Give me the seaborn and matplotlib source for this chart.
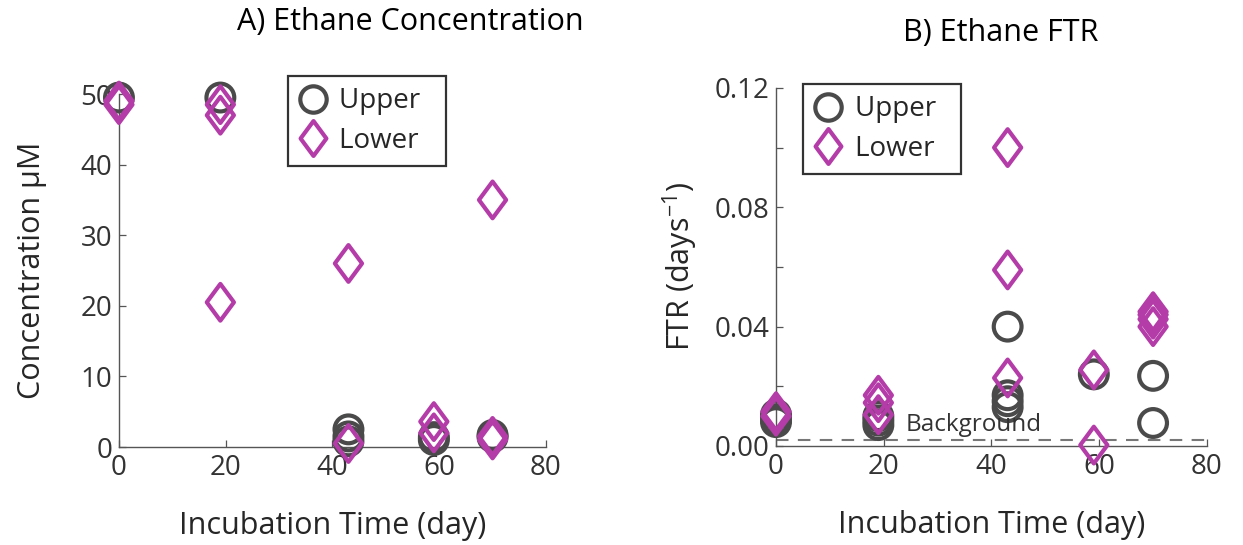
import numpy as np
import pandas as pd
import matplotlib
matplotlib.use("Agg")
import matplotlib.pyplot as plt
from matplotlib.path import Path
from matplotlib.lines import Line2D
import seaborn as sns

# Panel A: ethane concentration (uM)
conc_upper_day = [0, 19, 43, 43, 43, 59, 59, 70, 70]
conc_upper_val = [49.5, 49.5, 2.5, 1.5, 0.8, 1.4, 1.0, 1.7, 1.4]
conc_lower_day = [0, 0, 19, 19, 19, 43, 43, 59, 59, 70, 70, 70]
conc_lower_val = [49.0, 48.5, 48.5, 47.0, 20.5, 26.0, 0.5, 3.6, 2.0, 35.0, 1.5, 1.0]

# Panel B: ethane fractional turnover rate (1/day)
ftr_upper_day = [0, 0, 0, 19, 19, 19, 43, 43, 43, 43, 59, 70, 70]
ftr_upper_val = [0.0105, 0.0090, 0.0080, 0.0100, 0.0085, 0.0070,
                 0.0400, 0.0170, 0.0150, 0.0130, 0.0240, 0.0235, 0.0077]
ftr_lower_day = [0, 0, 19, 19, 19, 43, 43, 43, 59, 59, 70, 70, 70, 70]
ftr_lower_val = [0.0115, 0.0100, 0.0170, 0.0145, 0.0105,
                 0.1000, 0.0590, 0.0228, 0.0255, 0.0003,
                 0.0450, 0.0440, 0.0425, 0.0400]
background_ftr = 0.002

layers = ["Upper", "Lower"]
layer_colors = {"Upper": "#4a4a4a", "Lower": "#b43ca8"}
diamond = Path([(0, 1), (0.74, 0), (0, -1), (-0.74, 0), (0, 1)],
               [Path.MOVETO, Path.LINETO, Path.LINETO, Path.LINETO, Path.CLOSEPOLY])
layer_markers = {"Upper": "o", "Lower": diamond}
layer_sizes = {"Upper": 400, "Lower": 700}
edge_width = 3.0


def frame(days_u, vals_u, days_l, vals_l):
    return pd.concat([
        pd.DataFrame({"day": days_u, "value": vals_u, "layer": "Upper"}),
        pd.DataFrame({"day": days_l, "value": vals_l, "layer": "Lower"}),
    ], ignore_index=True)


conc = frame(conc_upper_day, conc_upper_val, conc_lower_day, conc_lower_val)
ftr = frame(ftr_upper_day, ftr_upper_val, ftr_lower_day, ftr_lower_val)

sns.set_theme(style="ticks")
plt.rcParams["font.family"] = ["Open Sans", "DejaVu Sans"]
plt.rcParams["axes.edgecolor"] = "#555555"
plt.rcParams["xtick.color"] = "#555555"
plt.rcParams["ytick.color"] = "#555555"
plt.rcParams["xtick.labelcolor"] = "#333333"
plt.rcParams["ytick.labelcolor"] = "#333333"

fig = plt.figure(figsize=(12.43, 5.45), dpi=100)
ax1 = fig.add_axes([0.0957, 0.1798, 0.3435, 0.6477])
ax2 = fig.add_axes([0.6243, 0.1817, 0.3467, 0.6570])


def draw(ax, df):
    sns.scatterplot(data=df, x="day", y="value", hue="layer", style="layer",
                    size="layer", hue_order=layers, style_order=layers,
                    size_order=layers, palette=layer_colors,
                    markers=layer_markers, sizes=layer_sizes,
                    legend=False, ax=ax, clip_on=False, zorder=3)
    # hollow markers: move the fill colour onto the outline
    for coll in ax.collections:
        fc = coll.get_facecolors()
        coll.set_edgecolors(fc)
        coll.set_facecolors("none")
        coll.set_linewidth(edge_width)


def style_axes(ax):
    for side in ("top", "right"):
        ax.spines[side].set_visible(False)
    for side in ("left", "bottom"):
        ax.spines[side].set_linewidth(1.0)
    ax.tick_params(direction="in", length=5, width=0.9, labelsize=20, pad=5)
    ax.set_xlim(0, 80)
    ax.set_xticks([0, 20, 40, 60, 80])
    ax.set_xlabel("Incubation Time (day)", fontsize=22, labelpad=21)


def add_legend(ax, loc):
    handles = [
        Line2D([], [], linestyle="none", marker=layer_markers[k],
               markersize=np.sqrt(layer_sizes[k]) * 0.95,
               markerfacecolor="none", markeredgecolor=layer_colors[k],
               markeredgewidth=edge_width, label=k + "  ")
        for k in layers
    ]
    leg = ax.legend(handles=handles, loc="upper left", bbox_to_anchor=loc,
                    fontsize=20, frameon=True, fancybox=False, handlelength=1.0,
                    handletextpad=0.45, borderpad=0.4, labelspacing=0.4,
                    borderaxespad=0)
    leg.get_frame().set_edgecolor("black")
    leg.get_frame().set_linewidth(1.6)


# Panel A
draw(ax1, conc)
style_axes(ax1)
ax1.set_ylim(0, 50)
ax1.set_yticks([0, 10, 20, 30, 40, 50])
ax1.set_ylabel("Concentration \u00b5M", fontsize=22, labelpad=24)
fig.text(410 / 1243, 1 - 22 / 545, "A) Ethane Concentration", fontsize=22,
         ha="center", va="center", color="black")
add_legend(ax1, (0.395, 1.05))

# Panel B
ax2.axhline(background_ftr, color="#777777", linestyle=(0, (6, 4.5)), linewidth=1.5, zorder=1)
draw(ax2, ftr)
style_axes(ax2)
ax2.set_ylim(0, 0.12)
ax2.set_yticks([0, 0.04, 0.08, 0.12])
ax2.set_yticks([0.02, 0.06, 0.10], minor=True)
ax2.tick_params(which="minor", direction="in", length=5, width=0.9)
ax2.yaxis.set_major_formatter(matplotlib.ticker.FormatStrFormatter("%.2f"))
ax2.set_ylabel("FTR (days$^{\\mathregular{-1}}$)", fontsize=22, labelpad=10)
fig.text(1001 / 1243, 1 - 33 / 545, "B) Ethane FTR", fontsize=22,
         ha="center", va="center", color="black")
ax2.text(24, background_ftr + 0.0010, "Background", fontsize=17.5, color="#333333",
         ha="left", va="bottom")
add_legend(ax2, (0.063, 1.01))

fig.savefig("out.png", dpi=100)
